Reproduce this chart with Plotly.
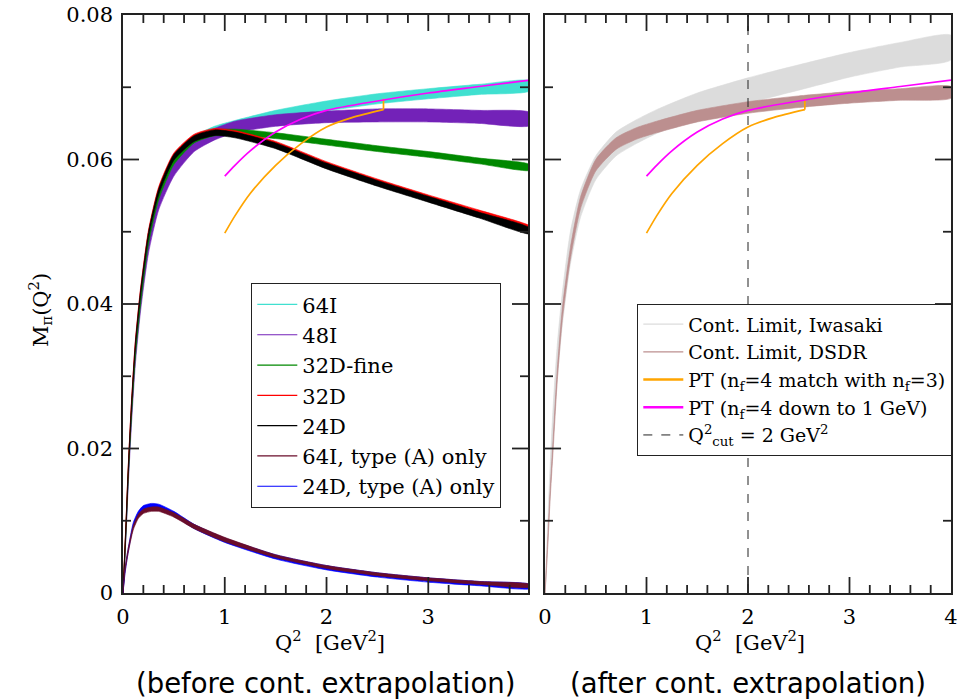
import plotly.graph_objects as go

# ---------------- data ----------------
X = [0, 0.01, 0.03, 0.05, 0.08, 0.12, 0.17, 0.25, 0.35, 0.5, 0.7, 0.9, 1.1, 1.5, 2.0, 2.5, 3.0, 3.5, 4.0]

M_64I = [0, 0.0029, 0.0092, 0.0158, 0.0242, 0.0330, 0.0402, 0.0486, 0.0548, 0.0596, 0.0626, 0.0640, 0.0648, 0.0661, 0.0674, 0.0684, 0.0691, 0.0697, 0.0702]
E_64I = [0, 0.0003, 0.0004, 0.0005, 0.0005, 0.0005, 0.0006, 0.0006, 0.0006, 0.0006, 0.0006, 0.0006, 0.0006, 0.0007, 0.0007, 0.0007, 0.0007, 0.0007, 0.0007]
M_48I = [0, 0.0027, 0.0085, 0.0150, 0.0232, 0.0322, 0.0395, 0.0478, 0.0538, 0.0585, 0.0619, 0.0635, 0.0645, 0.0654, 0.0659, 0.0661, 0.0661, 0.0659, 0.0656]
E_48I = [0, 0.0003, 0.0005, 0.0006, 0.0007, 0.0008, 0.0008, 0.0008, 0.0008, 0.0008, 0.0008, 0.0008, 0.0008, 0.0008, 0.0008, 0.0009, 0.0009, 0.0009, 0.0009]
M_32DF = [0, 0.0028, 0.0090, 0.0158, 0.0240, 0.0328, 0.0400, 0.0486, 0.0548, 0.0597, 0.0627, 0.0637, 0.0638, 0.0633, 0.0624, 0.0615, 0.0607, 0.0598, 0.0589]
E_32DF = [0, 0.0003, 0.0004, 0.0004, 0.0004, 0.0004, 0.0004, 0.0004, 0.0004, 0.0004, 0.0004, 0.0004, 0.0004, 0.0004, 0.0004, 0.0004, 0.0004, 0.0004, 0.0004]
M_32D = [0, 0.0033, 0.0099, 0.0169, 0.0255, 0.0345, 0.0417, 0.0500, 0.0560, 0.0607, 0.0633, 0.0641, 0.0638, 0.0623, 0.0595, 0.0571, 0.0549, 0.0528, 0.0506]
E_32D = [0, 0.0002, 0.0002, 0.0002, 0.0002, 0.0002, 0.0002, 0.0002, 0.0002, 0.0002, 0.0002, 0.0002, 0.0002, 0.0002, 0.0002, 0.0002, 0.0002, 0.0002, 0.0002]
M_24D = [0, 0.0030, 0.0095, 0.0165, 0.0250, 0.0340, 0.0412, 0.0495, 0.0555, 0.0603, 0.0629, 0.0637, 0.0634, 0.0619, 0.0591, 0.0567, 0.0545, 0.0523, 0.0501]
E_24D = [0, 0.0003, 0.0004, 0.0004, 0.0004, 0.0004, 0.0004, 0.0004, 0.0004, 0.0004, 0.0004, 0.0004, 0.0004, 0.0004, 0.0004, 0.0004, 0.0004, 0.0004, 0.0004]

XB = [0, 0.02, 0.05, 0.1, 0.15, 0.2, 0.28, 0.35, 0.5, 0.7, 1.0, 1.5, 2.0, 2.5, 3.0, 3.5, 4.0]
MA_24D = [0, 0.0030, 0.0058, 0.0094, 0.0110, 0.0118, 0.0121, 0.0120, 0.0110, 0.0092, 0.0073, 0.0050, 0.0035, 0.0025, 0.0018, 0.0013, 0.0009]
EA_24D = [0, 0.0003, 0.0003, 0.0003, 0.0003, 0.0003, 0.0003, 0.0003, 0.0003, 0.0003, 0.0003, 0.0003, 0.0003, 0.0003, 0.0003, 0.0003, 0.0003]
MA_64I = [0, 0.0032, 0.0058, 0.0090, 0.0106, 0.0113, 0.0116, 0.0116, 0.0108, 0.0092, 0.0074, 0.0051, 0.0036, 0.0026, 0.0019, 0.0014, 0.0010]
EA_64I = [0, 0.0003, 0.0003, 0.0003, 0.0003, 0.0003, 0.0003, 0.0003, 0.0003, 0.0003, 0.0003, 0.0002, 0.0002, 0.0002, 0.0002, 0.0002, 0.0002]

PT_X = [1.0, 1.1, 1.25, 1.5, 1.75, 2.0, 2.5, 3.0, 3.5, 4.0]
PT_NF4 = [0.0577, 0.0592, 0.0612, 0.0638, 0.0656, 0.0668, 0.0681, 0.0692, 0.0701, 0.0710]
PTM_X = [1.0, 1.1, 1.25, 1.5, 1.75, 2.0, 2.25, 2.56, 2.56]
PT_MATCH = [0.0498, 0.0522, 0.0553, 0.0592, 0.0622, 0.0645, 0.0658, 0.0669, 0.0684]

IW_HI = [0, 0.0036, 0.0108, 0.0175, 0.0258, 0.0342, 0.0415, 0.0500, 0.0558, 0.0605, 0.0638, 0.0655, 0.0669, 0.0692, 0.0713, 0.0731, 0.0748, 0.0762, 0.0772]
IW_LO = [0, 0.0022, 0.0075, 0.0135, 0.0210, 0.0295, 0.0370, 0.0455, 0.0520, 0.0572, 0.0605, 0.0622, 0.0636, 0.0657, 0.0678, 0.0696, 0.0714, 0.0728, 0.0738]
DS_C = [0, 0.0025, 0.0078, 0.0135, 0.0205, 0.0300, 0.0385, 0.0470, 0.0540, 0.0592, 0.0622, 0.0636, 0.0645, 0.0660, 0.0672, 0.0680, 0.0686, 0.0690, 0.0693]
DS_E = [0, 0.0004, 0.0006, 0.0007, 0.0008, 0.0008, 0.0008, 0.0008, 0.0008, 0.0008, 0.0008, 0.0008, 0.0008, 0.0008, 0.0008, 0.0008, 0.0008, 0.0008, 0.0008]

Q2_CUT = 2.0

# tick positions
X_MAJOR = [0, 1, 2, 3, 4]
X_MINOR = [0.2, 0.4, 0.6, 0.8, 1.2, 1.4, 1.6, 1.8, 2.2, 2.4, 2.6, 2.8, 3.2, 3.4, 3.6, 3.8]
Y_MAJOR = [0, 0.02, 0.04, 0.06, 0.08]
Y_LABELS = ["0", "0.02", "0.04", "0.06", "0.08"]
Y_MINOR = [0.01, 0.03, 0.05, 0.07]

# ---------------- figure ----------------
fig = go.Figure()

def band_lohi(x, lo, hi, color, xa, ya):
    fig.add_trace(go.Scatter(
        x=list(x) + list(x)[::-1], y=list(hi) + list(lo)[::-1],
        mode="lines", fill="toself", fillcolor=color,
        line=dict(color=color, width=0.6, shape="spline", smoothing=0.6),
        xaxis=xa, yaxis=ya, showlegend=False, hoverinfo="skip"))

def band(x, c, e, color, xa, ya):
    hi = [a + b for a, b in zip(c, e)]
    lo = [a - b for a, b in zip(c, e)]
    band_lohi(x, lo, hi, color, xa, ya)

def pt_curves(xa, ya):
    fig.add_trace(go.Scatter(x=PTM_X[:-1], y=PT_MATCH[:-1], mode="lines",
                             line=dict(color=C_OR, width=1.7, shape="spline", smoothing=0.8),
                             xaxis=xa, yaxis=ya, showlegend=False, hoverinfo="skip"))
    fig.add_trace(go.Scatter(x=PTM_X[-2:], y=PT_MATCH[-2:], mode="lines",
                             line=dict(color=C_OR, width=1.7),
                             xaxis=xa, yaxis=ya, showlegend=False, hoverinfo="skip"))
    fig.add_trace(go.Scatter(x=PT_X, y=PT_NF4, mode="lines",
                             line=dict(color=C_MG, width=1.7, shape="spline", smoothing=0.8),
                             xaxis=xa, yaxis=ya, showlegend=False, hoverinfo="skip"))

C_64I = "#40e0d0"
C_48I = "#7322b8"
C_32DF = "#008800"
C_32D = "#ff0000"
C_24D = "#000000"
C_A64 = "#6a0d2a"
C_A24 = "#0000ff"
C_IW = "#dcdcdc"
C_DS = "#bc8f8f"
C_OR = "#ffa500"
C_MG = "#ff00ff"

# left panel
band(X, M_64I, E_64I, C_64I, "x", "y")
band(X, M_48I, E_48I, C_48I, "x", "y")
band(X, M_32DF, E_32DF, C_32DF, "x", "y")
band(X, M_32D, E_32D, C_32D, "x", "y")
band(X, M_24D, E_24D, C_24D, "x", "y")
band(XB, MA_24D, EA_24D, C_A24, "x", "y")
band(XB, MA_64I, EA_64I, C_A64, "x", "y")
pt_curves("x", "y")

# right panel
band_lohi(X, IW_LO, IW_HI, C_IW, "x2", "y2")
band(X, DS_C, DS_E, C_DS, "x2", "y2")
pt_curves("x2", "y2")

SERIF = "DejaVu Serif"
axcol = "#222222"
W, H = 963, 699
XD1 = [123 / W, 528 / W]
XD2 = [545 / W, 951 / W]
YD = [1 - 593 / H, 1 - 15 / H]
PLOT_H = 593 - 15
PLOT_W = 405
YMAX = 0.08

# inward tick marks on all four sides, drawn as line traces in each panel's own data scale
def tick_trace(xa, ya, xmax):
    xs, ys = [], []
    for vals, ln in [(X_MAJOR, 16), (X_MINOR, 8)]:
        dy = ln / PLOT_H * YMAX
        for v in vals:
            if 0 < v < xmax:
                xs += [v, v, None, v, v, None]
                ys += [0, dy, None, YMAX, YMAX - dy, None]
    for vals, ln in [(Y_MAJOR, 16), (Y_MINOR, 8)]:
        dx = ln / PLOT_W * xmax
        for v in vals:
            if 0 < v < YMAX:
                xs += [0, dx, None, xmax, xmax - dx, None]
                ys += [v, v, None, v, v, None]
    fig.add_trace(go.Scatter(x=xs, y=ys, mode="lines", line=dict(color=axcol, width=1.8),
                             xaxis=xa, yaxis=ya, showlegend=False, hoverinfo="skip",
                             connectgaps=False, cliponaxis=False))

tick_trace("x", "y", 3.98)
tick_trace("x2", "y2", 4.0)

# legend entries (left)
for nm, col in [("64I", C_64I), ("48I", C_48I), ("32D-fine", C_32DF), ("32D", C_32D), ("24D", C_24D),
                ("64I, type (A) only", C_A64), ("24D, type (A) only", C_A24)]:
    fig.add_trace(go.Scatter(x=[None], y=[None], mode="lines", line=dict(color=col, width=1.2),
                             name=nm, xaxis="x", yaxis="y", legend="legend"))

# legend entries (right)
for nm, col, w in [("Cont. Limit, Iwasaki", C_IW, 1.2), ("Cont. Limit, DSDR", C_DS, 1.2),
                   ("PT (n<sub>f</sub>=4 match with n<sub>f</sub>=3)", C_OR, 2.4),
                   ("PT (n<sub>f</sub>=4 down to 1 GeV)", C_MG, 2.4)]:
    fig.add_trace(go.Scatter(x=[None], y=[None], mode="lines", line=dict(color=col, width=w),
                             name=nm, xaxis="x2", yaxis="y2", legend="legend2"))
fig.add_trace(go.Scatter(x=[Q2_CUT, Q2_CUT], y=[0, YMAX], mode="lines",
                         line=dict(color="#222222", width=1, dash="dash"),
                         name="Q<sup>2</sup><sub>cut</sub> = 2 GeV<sup>2</sup>",
                         xaxis="x2", yaxis="y2", legend="legend2", hoverinfo="skip"))

common = dict(showgrid=False, zeroline=False, automargin=False, type="linear",
              showline=True, mirror=True, linecolor=axcol, linewidth=1.5,
              ticks="", tickmode="array", ticklabelstandoff=4,
              tickfont=dict(family=SERIF, size=21, color="black"))

fig.update_layout(
    template="none",
    width=W, height=H, margin=dict(l=0, r=0, t=0, b=0, pad=0), autosize=False,
    paper_bgcolor="white", plot_bgcolor="white",
    xaxis=dict(domain=XD1, range=[0, 3.98], anchor="y", tickvals=X_MAJOR,
               ticktext=[str(v) for v in X_MAJOR], **common),
    yaxis=dict(domain=YD, range=[0, YMAX], anchor="x", tickvals=Y_MAJOR, ticktext=Y_LABELS, **common),
    xaxis2=dict(domain=XD2, range=[0, 4], anchor="y2", tickvals=X_MAJOR,
                ticktext=[str(v) for v in X_MAJOR], **common),
    yaxis2=dict(domain=YD, range=[0, YMAX], anchor="x2", tickvals=Y_MAJOR, showticklabels=False, **common),
    legend=dict(x=251 / W, y=1 - 283 / H, xanchor="left", yanchor="top",
                bgcolor="white", bordercolor=axcol, borderwidth=1.3,
                font=dict(family=SERIF, size=21, color="black"), itemwidth=40, tracegroupgap=0),
    legend2=dict(x=637 / W, y=1 - 304 / H, xanchor="left", yanchor="top",
                 bgcolor="white", bordercolor=axcol, borderwidth=1.3,
                 font=dict(family=SERIF, size=19, color="black"), itemwidth=40, tracegroupgap=0),
    showlegend=True,
)

ann = [
    dict(x=40 / W, y=1 - 310 / H, text="M<sub>π</sub>(Q<sup>2</sup>)", textangle=-90,
         font=dict(family=SERIF, size=21, color="black")),
    dict(x=330 / W, y=1 - 641 / H, text="Q<sup>2</sup>  [GeV<sup>2</sup>]",
         font=dict(family=SERIF, size=21, color="black")),
    dict(x=750 / W, y=1 - 641 / H, text="Q<sup>2</sup>  [GeV<sup>2</sup>]",
         font=dict(family=SERIF, size=21, color="black")),
    dict(x=325 / W, y=1 - 683 / H, text="(before cont. extrapolation)",
         font=dict(family="DejaVu Sans", size=27.5, color="black")),
    dict(x=748 / W, y=1 - 683 / H, text="(after cont. extrapolation)",
         font=dict(family="DejaVu Sans", size=27.5, color="black")),
]
for a in ann:
    fig.add_annotation(xref="paper", yref="paper", showarrow=False, xanchor="center", yanchor="middle", **a)

fig.write_html("out.html")
